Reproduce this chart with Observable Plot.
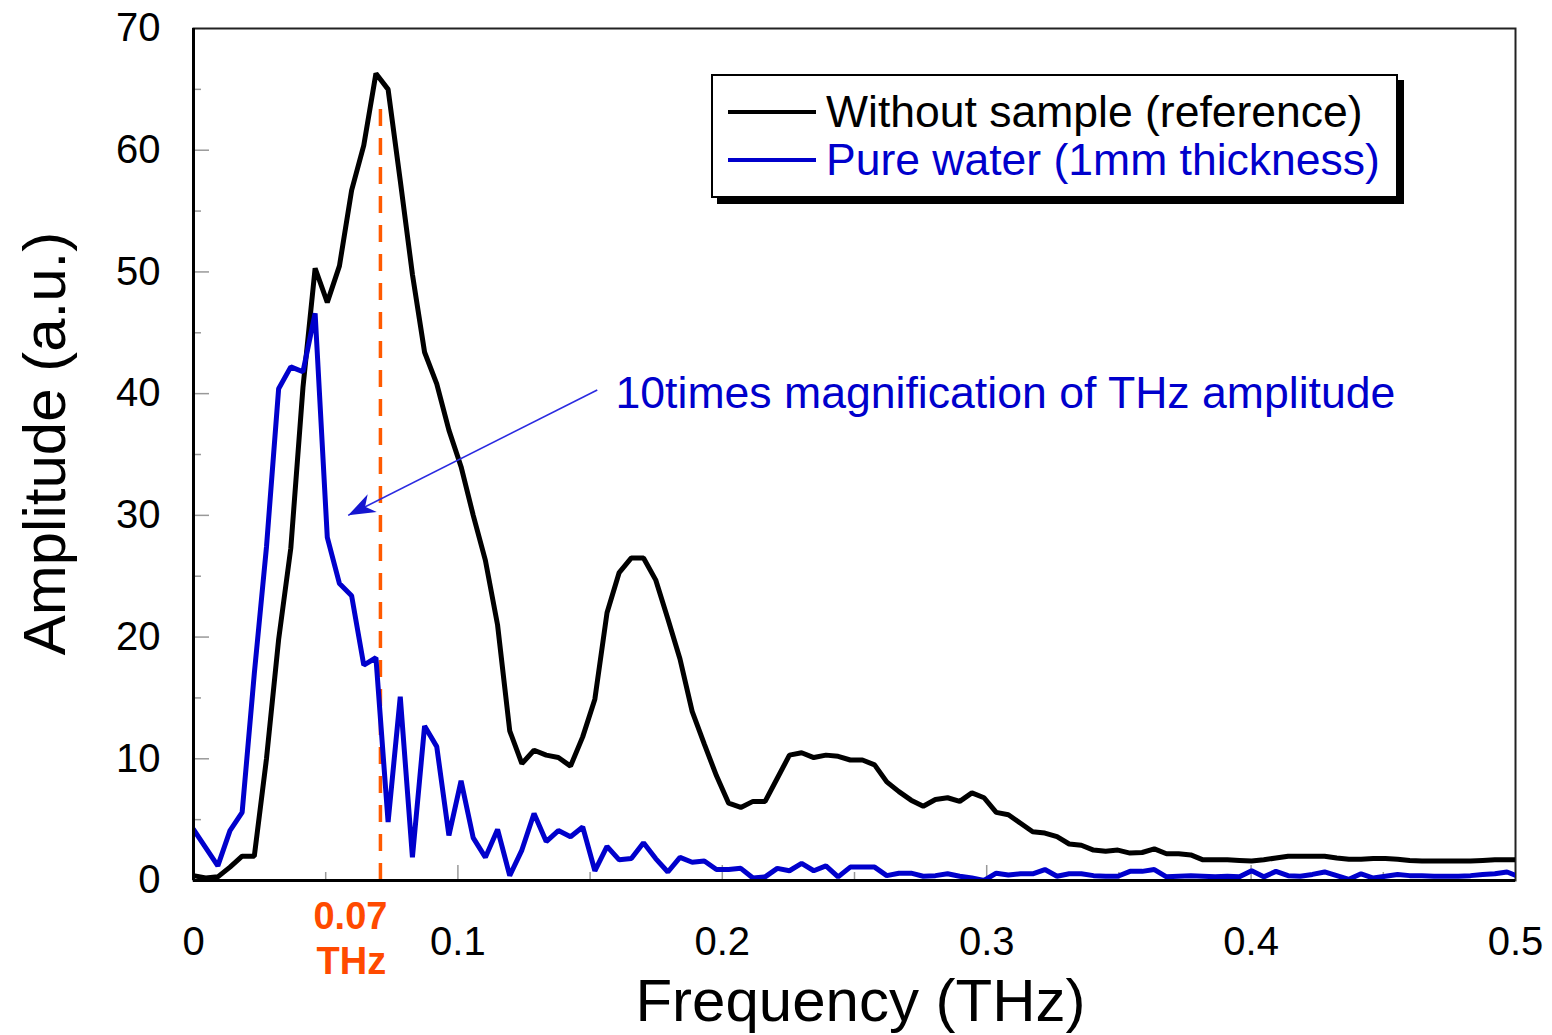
<!DOCTYPE html>
<html>
<head>
<meta charset="utf-8">
<script src="https://cdn.jsdelivr.net/npm/d3@7"></script>
<script src="https://cdn.jsdelivr.net/npm/@observablehq/plot@0.6"></script>
<style>
  html, body { margin: 0; padding: 0; background: #fff; }
  #wrap { position: relative; width: 1552px; height: 1035px; overflow: hidden; font-family: "Liberation Sans", Arial, sans-serif; }
  #legend { position: absolute; left: 711px; top: 74px; width: 683px; height: 120px; border: 2px solid #000; background: #fff; box-shadow: 6px 6px 0 #000; }
  .lrow { position: absolute; left: 15px; height: 48px; display: flex; align-items: center; font-size: 44.5px; white-space: nowrap; }
  .lrow .sw { width: 88px; height: 4px; margin-right: 10px; }
</style>
</head>
<body>
<div id="wrap"></div>
<script>
// Frequency grid (THz) of the spectra
const freq = [
  0, 0.0046, 0.0092, 0.0138, 0.0184, 0.023, 0.0276, 0.0322, 0.0368, 0.0414,
  0.046, 0.0506, 0.0552, 0.0598, 0.0644, 0.069, 0.0736, 0.0782, 0.0828, 0.0874,
  0.092, 0.0966, 0.1012, 0.1058, 0.1104, 0.115, 0.1196, 0.1242, 0.1288, 0.1334,
  0.138, 0.1426, 0.1472, 0.1518, 0.1564, 0.161, 0.1656, 0.1702, 0.1748, 0.1794,
  0.184, 0.1886, 0.1932, 0.1978, 0.2024, 0.207, 0.2116, 0.2162, 0.2208, 0.2254,
  0.23, 0.2346, 0.2392, 0.2438, 0.2484, 0.253, 0.2576, 0.2622, 0.2668, 0.2714,
  0.276, 0.2806, 0.2852, 0.2898, 0.2944, 0.299, 0.3036, 0.3082, 0.3128, 0.3174,
  0.322, 0.3266, 0.3312, 0.3358, 0.3404, 0.345, 0.3496, 0.3542, 0.3588, 0.3634,
  0.368, 0.3726, 0.3772, 0.3818, 0.3864, 0.391, 0.3956, 0.4002, 0.4048, 0.4094,
  0.414, 0.4186, 0.4232, 0.4278, 0.4324, 0.437, 0.4416, 0.4462, 0.4508, 0.4554,
  0.46, 0.4646, 0.4692, 0.4738, 0.4784, 0.483, 0.4876, 0.4922, 0.4968, 0.5014
];
// Without sample (reference)
const reference = [
  0.4, 0.2, 0.3, 1.1, 2.0, 2.0, 10.0, 19.8, 27.3, 40.5,
  50.3, 47.5, 50.5, 56.7, 60.4, 66.3, 65.0, 57.5, 49.8, 43.4,
  40.8, 37.0, 34.0, 30.0, 26.3, 21.0, 12.3, 9.6, 10.7, 10.3,
  10.1, 9.4, 11.8, 14.9, 22.0, 25.3, 26.5, 26.5, 24.7, 21.5,
  18.2, 13.9, 11.2, 8.6, 6.35, 6.0, 6.5, 6.5, 8.4, 10.3,
  10.5, 10.1, 10.3, 10.2, 9.9, 9.9, 9.5, 8.1, 7.3, 6.6,
  6.1, 6.65, 6.8, 6.5, 7.2, 6.8, 5.6, 5.4, 4.7, 4.0,
  3.9, 3.6, 3.0, 2.9, 2.5, 2.4, 2.5, 2.25, 2.3, 2.6,
  2.2, 2.2, 2.1, 1.7, 1.7, 1.7, 1.65, 1.6, 1.7, 1.85,
  2.0, 2.0, 2.0, 2.0, 1.85, 1.75, 1.75, 1.8, 1.8, 1.75,
  1.65, 1.6, 1.6, 1.6, 1.6, 1.6, 1.65, 1.7, 1.7, 1.7
];
// Pure water (1mm thickness), x10
const water = [
  4.2, 2.7, 1.2, 4.1, 5.6, 17.0, 27.4, 40.4, 42.2, 41.8,
  46.6, 28.2, 24.4, 23.4, 17.7, 18.3, 4.8, 15.1, 1.9, 12.7,
  11.0, 3.7, 8.2, 3.5, 1.9, 4.2, 0.4, 2.5, 5.5, 3.2,
  4.1, 3.6, 4.4, 0.8, 2.8, 1.7, 1.8, 3.1, 1.8, 0.7,
  1.9, 1.5, 1.6, 0.9, 0.9, 1.0, 0.2, 0.3, 1.0, 0.8,
  1.4, 0.8, 1.2, 0.3, 1.1, 1.1, 1.1, 0.4, 0.6, 0.6,
  0.35, 0.4, 0.55, 0.35, 0.2, 0.0, 0.6, 0.45, 0.55, 0.55,
  0.9, 0.35, 0.55, 0.55, 0.4, 0.35, 0.35, 0.75, 0.75, 0.9,
  0.3, 0.35, 0.4, 0.35, 0.3, 0.35, 0.3, 0.8, 0.3, 0.75,
  0.4, 0.35, 0.5, 0.7, 0.4, 0.1, 0.55, 0.2, 0.35, 0.5,
  0.4, 0.4, 0.35, 0.35, 0.35, 0.4, 0.5, 0.55, 0.7, 0.3
];
const xTickLabels = [0, 0.1, 0.2, 0.3, 0.4, 0.5];
const xMajorTicks = [0.1, 0.2, 0.3, 0.4];
const xMinorTicks = [0.05, 0.15, 0.25, 0.35, 0.45];
const yTickLabels = [0, 10, 20, 30, 40, 50, 60, 70];
const yMajorTicks = [10, 20, 30, 40, 50, 60];
const yMinorTicks = [5, 15, 25, 35, 45, 55, 65];
const markerFreq = [0.0707];
const markerTop = [64];
const markerLabel = ["0.07", "THz"];
const annotText = ["10times magnification of THz amplitude"];
const annotPos = [0.1596, 40.0];
const arrowFrom = [0.1527, 40.3];
const arrowTo = [0.0585, 30.0];
const seriesNames = ["Without sample (reference)", "Pure water (1mm thickness)"];
const seriesColors = ["#000000", "#0000cc"];

const refData = freq.map((f, i) => ({f, v: reference[i]}));
const watData = freq.map((f, i) => ({f, v: water[i]}));

const W = 1552, H = 1035, mL = 193, mR = 37, mT = 28, mB = 155;
const plotW = W - mL - mR, plotH = H - mT - mB;
const FONT = "'Liberation Sans', Arial, sans-serif";

// filled "stealth" arrowhead, tip at the origin, pointing up
const stealthHead = {
  draw(context) {
    context.moveTo(0, 0);
    context.lineTo(-10, 27);
    context.lineTo(0, 19);
    context.lineTo(10, 27);
    context.closePath();
  }
};

const chart = Plot.plot({
  width: W, height: H,
  marginLeft: mL, marginRight: mR, marginTop: mT, marginBottom: mB,
  style: {fontFamily: FONT, background: "#fff", color: "#000"},
  x: {domain: [0, 0.5]},
  y: {domain: [0, 70]},
  marks: [
    // inward ticks
    Plot.tickY(yMajorTicks, {y: d => d, stroke: "#999", strokeWidth: 1.5, insetRight: plotW - 16}),
    Plot.tickY(yMinorTicks, {y: d => d, stroke: "#999", strokeWidth: 1.5, insetRight: plotW - 8}),
    Plot.tickX(xMajorTicks, {x: d => d, stroke: "#999", strokeWidth: 1.5, insetTop: plotH - 15}),
    Plot.tickX(xMinorTicks, {x: d => d, stroke: "#999", strokeWidth: 1.5, insetTop: plotH - 8}),
    Plot.axisY({ticks: yTickLabels, tickSize: 0, tickPadding: 33, fontSize: 40, label: null, tickFormat: d => String(d)}),
    Plot.axisX({ticks: xTickLabels, tickSize: 0, tickPadding: 46, fontSize: 40, label: null, tickFormat: d => String(d)}),
    Plot.frame({stroke: "#222", strokeWidth: 2}),
    // dashed marker line
    Plot.ruleX(markerFreq, {x: d => d, y1: 0, y2: markerTop[0], stroke: "#ff5a00", strokeWidth: 3.5, strokeDasharray: "17,12"}),
    // curves
    Plot.line(refData, {x: "f", y: "v", stroke: seriesColors[0], strokeWidth: 5, clip: true, strokeLinejoin: "miter"}),
    Plot.line(watData, {x: "f", y: "v", stroke: seriesColors[1], strokeWidth: 5, clip: true, strokeLinejoin: "miter"}),
    Plot.ruleX([0], {stroke: "#000", strokeWidth: 3}),
    Plot.ruleY([0], {stroke: "#000", strokeWidth: 3}),
    // annotation arrow
    Plot.link([{x1: arrowFrom[0], y1: arrowFrom[1], x2: arrowTo[0], y2: arrowTo[1]}],
      {x1: "x1", y1: "y1", x2: "x2", y2: "y2", stroke: "#2a2ae0", strokeWidth: 1.6}),
    Plot.dot([{x: arrowTo[0], y: arrowTo[1]}], {x: "x", y: "y", symbol: stealthHead, r: 10, fill: "#1515d0", stroke: "none", rotate: 243}),
    Plot.text(annotText, {x: annotPos[0], y: annotPos[1], text: d => d, textAnchor: "start", fill: "#0000cc", fontSize: 44.6}),
    Plot.text([markerLabel[0]], {x: markerFreq[0], y: 0, text: d => d, dx: -30, dy: 36, fill: "#ff4a00", fontSize: 38, fontWeight: "bold"}),
    Plot.text([markerLabel[1]], {x: markerFreq[0], y: 0, text: d => d, dx: -29, dy: 81, fill: "#ff4a00", fontSize: 38, fontWeight: "bold"}),
    // axis titles
    Plot.text(["Amplitude (a.u.)"], {frameAnchor: "left", text: d => d, rotate: -90, textAnchor: "middle", lineAnchor: "middle", dx: -148, dy: -11, fontSize: 60, fill: "#000"}),
    Plot.text(["Frequency (THz)"], {frameAnchor: "bottom", text: d => d, textAnchor: "middle", lineAnchor: "middle", dy: 121, dx: 6, fontSize: 60, fill: "#000"})
  ]
});

const wrap = document.getElementById("wrap");
wrap.appendChild(chart);

// legend
const legend = document.createElement("div");
legend.id = "legend";
seriesNames.forEach((name, i) => {
  const row = document.createElement("div");
  row.className = "lrow";
  row.style.top = (i === 0 ? 12 : 60) + "px";
  const sw = document.createElement("span");
  sw.className = "sw";
  sw.style.background = seriesColors[i];
  const t = document.createElement("span");
  t.textContent = name;
  t.style.color = seriesColors[i];
  row.appendChild(sw); row.appendChild(t);
  legend.appendChild(row);
});
wrap.appendChild(legend);
</script>
</body>
</html>
